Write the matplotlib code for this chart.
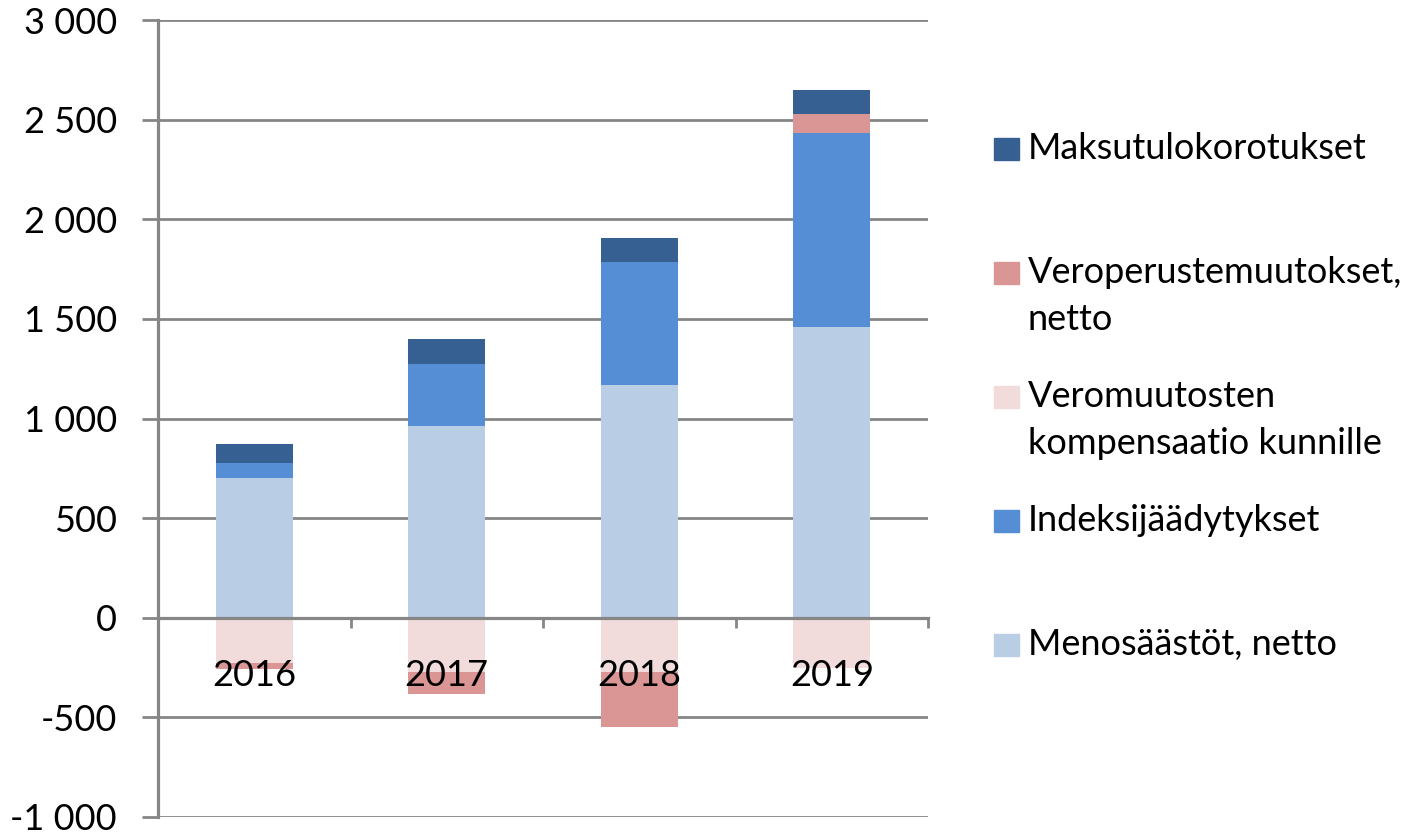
import matplotlib

matplotlib.use("Agg")
import matplotlib.pyplot as plt
import numpy as np
from matplotlib.patches import Rectangle
from matplotlib.ticker import FuncFormatter

# --- data ----------------------------------------------------------------
years = ["2016", "2017", "2018", "2019"]
menosaastot = [700, 964, 1167, 1459]
indeksi = [78, 310, 618, 974]
kompensaatio = [-229, -274, -274, -252]
veroperuste = [-27, -108, -276, 95]
maksutulo = [93, 124, 123, 122]

series_names = [
    "Menosäästöt, netto",
    "Indeksijäädytykset",
    "Veromuutosten\nkompensaatio kunnille",
    "Veroperustemuutokset,\nnetto",
    "Maksutulokorotukset",
]
series_values = [menosaastot, indeksi, kompensaatio, veroperuste, maksutulo]
series_colors = ["#B9CDE5", "#558ED5", "#F2DCDB", "#D99694", "#376092"]

plt.rcParams["font.family"] = ["Lato", "DejaVu Sans"]
FS = 26
GRID = "#868686"

W, H = 1425, 835
fig = plt.figure(figsize=(W / 100, H / 100), dpi=100)
ax = fig.add_axes([158 / W, 1 - 816.8 / H, (928 - 158) / W, (816.8 - 20.3) / H])

x = np.arange(len(years))
pos_base = np.zeros(len(years))
neg_base = np.zeros(len(years))
for name, vals, col in zip(series_names, series_values, series_colors):
    v = np.array(vals, dtype=float)
    bottom = np.where(v >= 0, pos_base, neg_base)
    ax.bar(x, v, width=0.4, bottom=bottom, color=col, linewidth=0, zorder=1)
    pos_base += np.clip(v, 0, None)
    neg_base += np.clip(v, None, 0)

ax.set_xlim(-0.5, len(years) - 0.5)
ax.set_ylim(-1000, 3000)
ax.set_yticks(np.arange(-1000, 3001, 500))
ax.yaxis.set_major_formatter(
    FuncFormatter(lambda v, _: f"{int(v):,}".replace(",", " ")))
ax.tick_params(axis="y", direction="out", length=11.5, width=2, color=GRID,
               labelsize=FS, pad=18)

# category boundaries get tick marks, category centres get the labels
ax.set_xticks(list(x[1:] - 0.5) + [len(years) - 0.5])
ax.set_xticklabels([])
ax.set_xticks(x, minor=True)
ax.set_xticklabels(years, minor=True)
ax.tick_params(axis="x", which="major", direction="out", length=7, width=2,
               color=GRID)
ax.tick_params(axis="x", which="minor", length=0, labelsize=FS, pad=30)

ax.yaxis.grid(True, color=GRID, linewidth=2)
ax.set_axisbelow(True)
ax.xaxis.set_zorder(3)

for side in ("top", "right"):
    ax.spines[side].set_visible(False)
ax.spines["bottom"].set_position(("data", 0))
for side in ("left", "bottom"):
    ax.spines[side].set_color(GRID)
    ax.spines[side].set_linewidth(2.3)
    ax.spines[side].set_zorder(2.5)

# legend, Excel style: reversed order, marker next to first line
for i, (name, col) in enumerate(zip(series_names[::-1], series_colors[::-1])):
    yc = 149 + 124 * i
    fig.patches.append(Rectangle((994 / W, 1 - (yc + 11) / H), 25 / W, 22 / H,
                                 transform=fig.transFigure, color=col))
    fig.text(1028 / W, 1 - (yc - 17) / H, name, fontsize=FS, va="top",
             ha="left", linespacing=1.5)

fig.savefig("out.png", dpi=100)
